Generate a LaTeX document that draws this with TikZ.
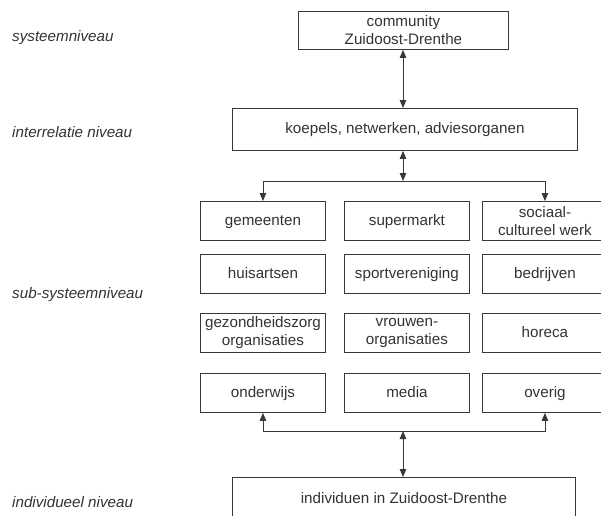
\documentclass[tikz,border=0pt]{standalone}
\usepackage{fontspec}
\setmainfont{Liberation Sans}
\usetikzlibrary{arrows.meta}
\definecolor{linec}{gray}{0.22}
\definecolor{textc}{gray}{0.2}
\begin{document}
\begin{tikzpicture}[x=1pt,y=-1pt,
  every node/.style={font=\fontsize{15.2}{16.5}\selectfont, text=textc},
  box/.style={draw=linec, line width=0.9pt, rectangle, anchor=north west, inner sep=0pt, align=center},
  one/.style={text height=11pt, text depth=2.6pt},
  two/.style={font=\fontsize{15.2}{18}\selectfont},
  cell/.style={box, minimum width=125pt, minimum height=39pt},
  lvl/.style={anchor=west, font=\fontsize{15.2}{16.5}\selectfont\itshape, inner sep=0pt},
  conn/.style={draw=linec, line width=0.9pt, -{Triangle[length=8pt,width=6.5pt]}},
  dconn/.style={draw=linec, line width=0.9pt, {Triangle[length=8pt,width=6.5pt]}-{Triangle[length=8pt,width=6.5pt]}}
]
\useasboundingbox (0,0) rectangle (601,515);
\clip (0,0) rectangle (601,515);

% level labels
\node[lvl] (l1) at (12,38) {systeemniveau};
\node[lvl] (l2) at (12,132) {interrelatie niveau};
\node[lvl] (l3) at (12,295) {sub-systeemniveau};
\node[lvl] (l4) at (12,502) {individueel niveau};

% top boxes
\node[box, two, minimum width=210pt, minimum height=38pt] (com) at (298,11) {community\\Zuidoost-Drenthe};
\node[box, one, minimum width=345pt, minimum height=42pt] (koe) at (232,108) {koepels, netwerken, adviesorganen};

% grid
\node[cell, one] (gem) at (200,201) {gemeenten};
\node[cell, one] (sup) at (344,201) {supermarkt};
\node[cell, two] (soc) at (482,201) {sociaal-\\cultureel werk};
\node[cell, one] (hui) at (200,254) {huisartsen};
\node[cell, one] (spo) at (344,254) {sportvereniging};
\node[cell, one] (bed) at (482,254) {bedrijven};
\node[cell, two] (gez) at (200,313) {gezondheidszorg\\organisaties};
\node[cell, two] (vro) at (344,313) {vrouwen-\\organisaties};
\node[cell, one] (hor) at (482,313) {horeca};
\node[cell, one] (ond) at (200,373) {onderwijs};
\node[cell, one] (med) at (344,373) {media};
\node[cell, one] (ove) at (482,373) {overig};

% bottom box (cut by the page edge)
\node[box, one, minimum width=343pt, minimum height=43pt] (ind) at (232,477) {individuen in Zuidoost-Drenthe};

% connectors
\coordinate (j1) at (403,181);
\coordinate (j2) at (403,431);
\draw[dconn] (com.south -| j1) -- (koe.north -| j1);
\draw[dconn] (koe.south -| j1) -- (j1);
\draw[conn] (j1) -| (gem.north);
\draw[conn] (j1) -| (soc.north);
\draw[conn] (j2) -| (ond.south);
\draw[conn] (j2) -| (ove.south);
\draw[dconn] (j2) -- (ind.north -| j2);
\end{tikzpicture}
\end{document}
